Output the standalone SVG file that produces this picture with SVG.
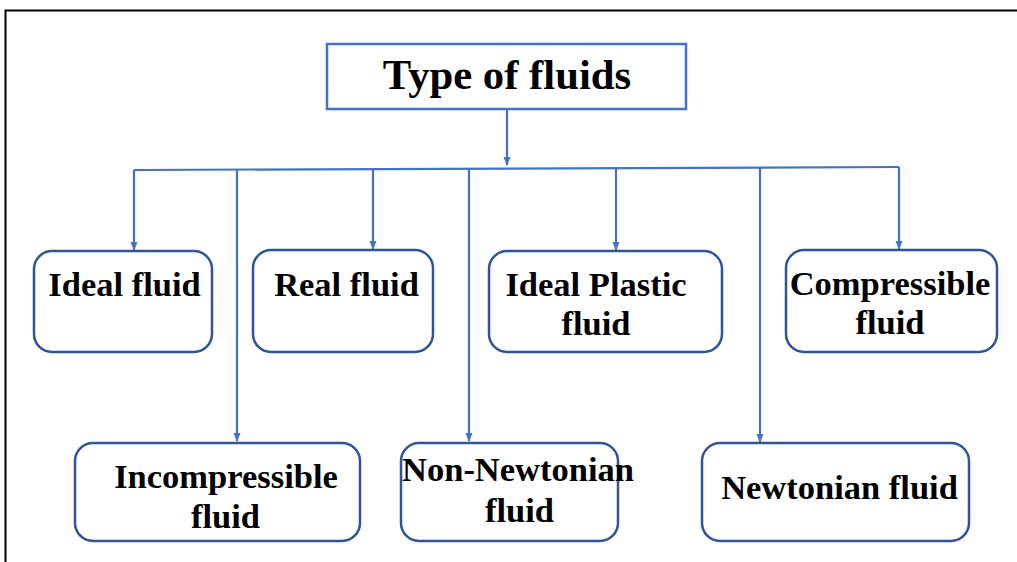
<svg xmlns="http://www.w3.org/2000/svg" width="1017" height="562" viewBox="0 0 1017 562">
<style>
.node{fill:#fff;stroke:#2F5597;stroke-width:2.5}
.title{fill:#fff;stroke:#4472C4;stroke-width:2.5}
.t{font-family:"Liberation Serif","Times New Roman",serif;font-weight:bold;font-size:34.5px;fill:#000;text-anchor:middle}
.tt{font-family:"Liberation Serif","Times New Roman",serif;font-weight:bold;font-size:42.7px;fill:#000;text-anchor:middle}
.c{fill:none;stroke:#4472C4;stroke-width:2.2}
</style>
<defs>
<marker id="ah" markerWidth="9" markerHeight="9" refX="8" refY="4.5" orient="auto" markerUnits="userSpaceOnUse">
<path d="M0,1 L9,4.5 L0,8 Z" fill="#4472C4"/>
</marker>
</defs>
<rect x="0" y="0" width="1017" height="562" fill="#fff"/>
<path d="M1017,10.5 H5.5 V562" fill="none" stroke="#000" stroke-width="2"/>
<g id="connectors">
<path class="c" d="M507,109 V165" marker-end="url(#ah)"/>
<path class="c" d="M134,170 L899,167"/>
<path class="c" d="M134,170 V250" marker-end="url(#ah)"/>
<path class="c" d="M237,170 V441" marker-end="url(#ah)"/>
<path class="c" d="M373,169 V249" marker-end="url(#ah)"/>
<path class="c" d="M469,168 V441" marker-end="url(#ah)"/>
<path class="c" d="M616,168 V250" marker-end="url(#ah)"/>
<path class="c" d="M760,168 V442" marker-end="url(#ah)"/>
<path class="c" d="M899,167 V249" marker-end="url(#ah)"/>
</g>
<g id="title">
<rect class="title" x="327" y="44" width="359" height="65"/>
<text class="tt" x="507" y="89">Type of fluids</text>
</g>
<g id="ideal">
<rect class="node" x="34" y="251" width="178" height="101" rx="18"/>
<text class="t" x="124.5" y="296">Ideal fluid</text>
</g>
<g id="real">
<rect class="node" x="253" y="250" width="180" height="102" rx="18"/>
<text class="t" x="346.5" y="296">Real fluid</text>
</g>
<g id="idealplastic">
<rect class="node" x="489" y="251" width="233" height="101" rx="18"/>
<text class="t" x="596" y="296">Ideal Plastic</text>
<text class="t" x="596" y="335">fluid</text>
</g>
<g id="compressible">
<rect class="node" x="786" y="250" width="211" height="102" rx="18"/>
<text class="t" x="890" y="295">Compressible</text>
<text class="t" x="890" y="334">fluid</text>
</g>
<g id="incompressible">
<rect class="node" x="75" y="443" width="285" height="98" rx="18"/>
<text class="t" x="226" y="488">Incompressible</text>
<text class="t" x="225.5" y="528">fluid</text>
</g>
<g id="nonnewtonian">
<rect class="node" x="401" y="443" width="217" height="98" rx="18"/>
<text class="t" x="518" y="481">Non-Newtonian</text>
<text class="t" x="519.5" y="522">fluid</text>
</g>
<g id="newtonian">
<rect class="node" x="702" y="443" width="267" height="98" rx="18"/>
<text class="t" x="839.5" y="499">Newtonian fluid</text>
</g>
</svg>
